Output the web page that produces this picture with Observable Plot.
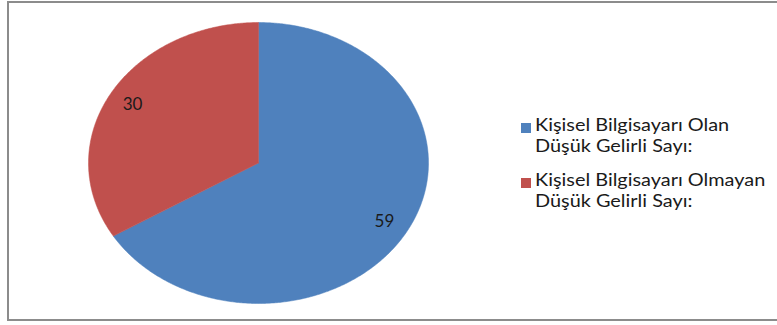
<!DOCTYPE html>
<html>
<head>
<meta charset="utf-8">
<script src="https://cdn.jsdelivr.net/npm/d3@7"></script>
<script src="https://cdn.jsdelivr.net/npm/@observablehq/plot@0.6"></script>
<style>
  html, body { margin: 0; padding: 0; background: #fff; }
  #wrap { position: relative; width: 777px; height: 325px; overflow: hidden; font-family: Lato, "Open Sans", sans-serif; }
  #frame { position: absolute; left: 7px; top: 1px; width: 800px; height: 320px; border: 2px solid #8c8c8c; box-sizing: border-box; }
  #legend { position: absolute; left: 521px; top: 114px; color: #1a1a1a; font-size: 17px; line-height: 21px; }
  .item { display: flex; align-items: flex-start; margin-bottom: 13px; }
  .sw { width: 10px; height: 10px; margin-top: 9px; margin-right: 4px; flex: none; }
  .txt { transform: scaleX(1.17); transform-origin: 0 0; white-space: nowrap; }
  #chart { position: absolute; left: 0; top: 0; }
</style>
</head>
<body>
<div id="wrap"><div id="chart"></div><div id="frame"></div><div id="legend"></div></div>
<script>
const categories = ["Kişisel Bilgisayarı Olan Düşük Gelirli Sayı:", "Kişisel Bilgisayarı Olmayan Düşük Gelirli Sayı:"];
const legendLines = [["Kişisel Bilgisayarı Olan", "Düşük Gelirli Sayı:"], ["Kişisel Bilgisayarı Olmayan", "Düşük Gelirli Sayı:"]];
const values = [59, 30];
const colors = ["#4F81BD", "#C0504D"];

const data = categories.map((c, i) => ({category: c, value: values[i]}));
const arcs = d3.pie().sort(null).value(d => d.value)(data);

// polygon outline of each slice in unit coordinates (x = sin, y = cos, angle clockwise from top)
const outline = [];
for (const a of arcs) {
  const n = Math.max(2, Math.ceil((a.endAngle - a.startAngle) / (Math.PI / 360)));
  outline.push({category: a.data.category, x: 0, y: 0});
  for (let k = 0; k <= n; k++) {
    const t = a.startAngle + (a.endAngle - a.startAngle) * k / n;
    outline.push({category: a.data.category, x: Math.sin(t), y: Math.cos(t)});
  }
  outline.push({category: a.data.category, x: 0, y: 0});
}
const labels = arcs.map(a => {
  const m = (a.startAngle + a.endAngle) / 2;
  return {label: String(a.data.value), x: 0.85 * Math.sin(m), y: 0.85 * Math.cos(m)};
});

const chart = Plot.plot({
  width: 777,
  height: 325,
  marginLeft: 88,
  marginRight: 349,
  marginTop: 22,
  marginBottom: 22,
  x: {domain: [-1, 1], axis: null},
  y: {domain: [-1, 1], axis: null},
  color: {domain: categories, range: colors},
  style: {background: "transparent", fontFamily: "Lato, 'Open Sans', sans-serif"},
  marks: [
    Plot.line(outline, {x: "x", y: "y", z: "category", fill: "category", stroke: "category", strokeWidth: 0.5, curve: "linear"}),
    Plot.text(labels, {x: "x", y: "y", text: "label", fontSize: 17, fill: "#1a1a1a"})
  ]
});
document.getElementById("chart").appendChild(chart);

const legend = document.getElementById("legend");
legendLines.forEach((lines, i) => {
  const item = document.createElement("div");
  item.className = "item";
  const sw = document.createElement("div");
  sw.className = "sw";
  sw.style.background = colors[i];
  const txt = document.createElement("div");
  txt.className = "txt";
  txt.innerHTML = lines.join("<br>");
  item.appendChild(sw);
  item.appendChild(txt);
  legend.appendChild(item);
});
</script>
</body>
</html>
